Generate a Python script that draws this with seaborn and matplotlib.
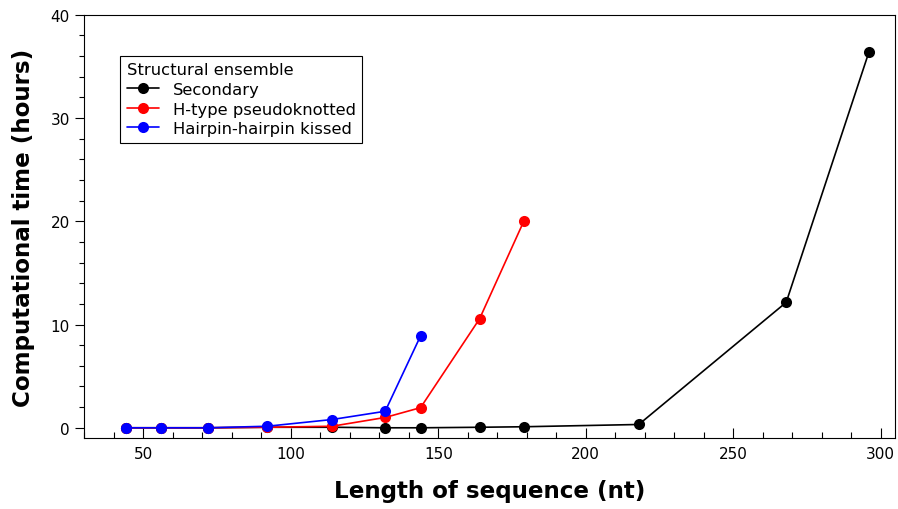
import matplotlib
matplotlib.use("Agg")
import matplotlib.pyplot as plt
import seaborn as sns
import pandas as pd
from matplotlib.ticker import MultipleLocator

secondary_x = [44, 56, 72, 92, 114, 132, 144, 164, 179, 218, 268, 296]
secondary_y = [0.0, 0.0, 0.0, 0.05, 0.05, 0.0, 0.0, 0.05, 0.1, 0.32, 12.15, 36.35]
htype_x = [44, 56, 72, 92, 114, 132, 144, 164, 179]
htype_y = [0.0, 0.0, 0.0, 0.05, 0.15, 1.0, 1.95, 10.55, 20.0]
kissed_x = [44, 56, 72, 92, 114, 132, 144]
kissed_y = [0.0, 0.0, 0.0, 0.15, 0.8, 1.6, 8.9]

names = ["Secondary", "H-type pseudoknotted", "Hairpin-hairpin kissed"]
colors = ["black", "red", "blue"]

df = pd.concat([
    pd.DataFrame({"x": secondary_x, "y": secondary_y, "Structural ensemble": names[0]}),
    pd.DataFrame({"x": htype_x, "y": htype_y, "Structural ensemble": names[1]}),
    pd.DataFrame({"x": kissed_x, "y": kissed_y, "Structural ensemble": names[2]}),
])

sns.set_style("white")
plt.rcParams['font.family'] = ['DejaVu Sans']
plt.rcParams['text.color'] = 'black'
plt.rcParams['axes.labelcolor'] = 'black'
plt.rcParams['xtick.color'] = 'black'
plt.rcParams['ytick.color'] = 'black'

fig, ax = plt.subplots(figsize=(8.98, 5.10), dpi=100)
fig.subplots_adjust(left=0.094, right=0.997, top=0.969, bottom=0.139)

sns.lineplot(data=df, x="x", y="y", hue="Structural ensemble", hue_order=names,
             palette=dict(zip(names, colors)), marker="o", markersize=8,
             markeredgewidth=0, linewidth=1.2, ax=ax)

ax.set_xlim(30, 305)
ax.set_ylim(-1, 40)
ax.xaxis.set_major_locator(MultipleLocator(50))
ax.xaxis.set_minor_locator(MultipleLocator(10))
ax.yaxis.set_major_locator(MultipleLocator(10))
ax.yaxis.set_minor_locator(MultipleLocator(2))
ax.tick_params(axis="x", which="major", direction="in", length=7, width=0.8, labelsize=11, bottom=True, top=False, pad=6)
ax.tick_params(axis="x", which="minor", direction="in", length=4, width=0.8, bottom=True, top=False)
ax.tick_params(axis="y", which="major", direction="out", length=6.5, width=0.8, labelsize=11, left=True, right=False, pad=4)
ax.tick_params(axis="y", which="minor", direction="out", length=3.6, width=0.8, left=True, right=False)
for s in ax.spines.values():
    s.set_color("black")
    s.set_linewidth(0.8)

ax.set_xlabel("Length of sequence (nt)", fontsize=16.6, fontweight="bold", labelpad=13)
ax.set_ylabel("Computational time (hours)", fontsize=16.6, fontweight="bold", labelpad=11)

leg = ax.legend(title="Structural ensemble", loc="upper left", bbox_to_anchor=(0.044, 0.903),
                borderaxespad=0, fontsize=11.8, title_fontsize=11.8, fancybox=False, framealpha=1,
                edgecolor="black", handlelength=2, borderpad=0.4, labelspacing=0.28)
leg.get_frame().set_linewidth(0.8)
leg._legend_box.align = "left"

fig.savefig("out.png", dpi=100)
